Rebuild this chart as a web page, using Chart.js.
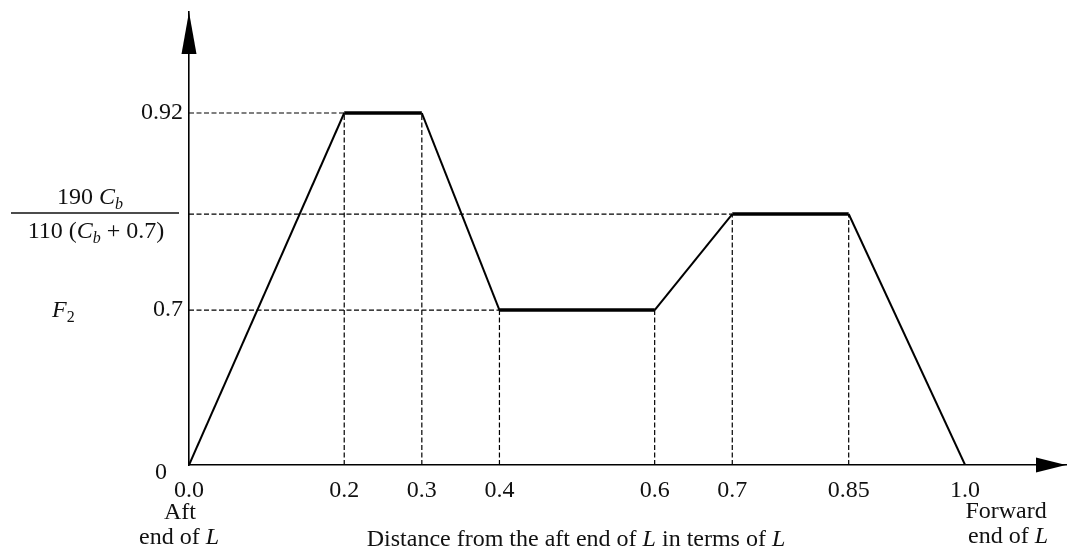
<!DOCTYPE html>
<html>
<head>
<meta charset="utf-8">
<script src="https://cdn.jsdelivr.net/npm/chart.js@4/dist/chart.umd.min.js"></script>
<style>
html, body { margin: 0; padding: 0; background: #fff; }
#wrap { width: 1068px; height: 554px; }
</style>
</head>
<body>
<div id="wrap"><canvas id="dist_chart" width="1068" height="554"></canvas></div>
<script>
// breakpoints along the ship, as a fraction of L from the aft end
var xBreaks = [0.0, 0.2, 0.3, 0.4, 0.6, 0.7, 0.85, 1.0];
// factor at each breakpoint; 0.81 stands in for 190 Cb / (110 (Cb + 0.7))
var fValues = [0, 0.92, 0.92, 0.7, 0.7, 0.81, 0.81, 0];

var xTickValues = [0.0, 0.2, 0.3, 0.4, 0.6, 0.7, 0.85, 1.0];
var xTickLabels = ['0.0', '0.2', '0.3', '0.4', '0.6', '0.7', '0.85', '1.0'];
var yTickValues = [0, 0.7, 0.81, 0.92];
var yTickLabels = ['', '0.7', '', '0.92'];

var SERIF = '"Liberation Serif", "Times New Roman", serif';
var INK = '#111';
var FS = 24, SUB = 16;

// the y axis of the sketch is not to scale, so map values piecewise
var yKnots = [0, 0.7, 0.81, 0.92, 1.1];
var yKnotPos = [0, 0.342, 0.554, 0.777, 1];

function toDecimal(v) {
    for (var i = 1; i < yKnots.length; i++) {
        if (v <= yKnots[i] || i == yKnots.length - 1) {
            return yKnotPos[i - 1] + (v - yKnots[i - 1]) / (yKnots[i] - yKnots[i - 1]) * (yKnotPos[i] - yKnotPos[i - 1]);
        }
    }
}
function fromDecimal(d) {
    for (var i = 1; i < yKnotPos.length; i++) {
        if (d <= yKnotPos[i] || i == yKnotPos.length - 1) {
            return yKnots[i - 1] + (d - yKnotPos[i - 1]) / (yKnotPos[i] - yKnotPos[i - 1]) * (yKnots[i] - yKnots[i - 1]);
        }
    }
}

var BaseLinear = Chart.LinearScale || Chart.registry.getScale('linear');
class SketchScale extends BaseLinear {
    static id = 'sketch';
    static defaults = {};
    getPixelForValue(value) {
        if (value === null || isNaN(value)) return NaN;
        return this.getPixelForDecimal(toDecimal(value));
    }
    getValueForPixel(pixel) {
        return fromDecimal(this.getDecimalForPixel(pixel));
    }
}
Chart.register(SketchScale);

// main profile
var profile = xBreaks.map((x, i) => ({ x: x, y: fValues[i] }));

// dashed guides: down to the x axis from each corner, across to the y axis from each level
var guides = [];
xBreaks.forEach((x, i) => {
    if (fValues[i] > 0) {
        guides.push({ x: x, y: 0 }, { x: x, y: fValues[i] }, { x: null, y: null });
    }
});
var seen = [];
xBreaks.forEach((x, i) => {
    var v = fValues[i];
    if (v > 0 && seen.indexOf(v) < 0) {
        seen.push(v);
        guides.push({ x: 0, y: v }, { x: x, y: v }, { x: null, y: null });
    }
});

function fnt(size, italic) {
    return (italic ? 'italic ' : '') + size + 'px ' + SERIF;
}

// parts: [text, italic, subscript]
function richText(ctx, parts, cx, cy, align) {
    var w = 0;
    parts.forEach(p => {
        ctx.font = fnt(p[2] ? SUB : FS, p[1]);
        w += ctx.measureText(p[0]).width;
    });
    var x = align == 'left' ? cx : cx - w / 2;
    parts.forEach(p => {
        ctx.font = fnt(p[2] ? SUB : FS, p[1]);
        ctx.fillText(p[0], x, cy + (p[2] ? 7 : 0));
        x += ctx.measureText(p[0]).width;
    });
}

var sketchDecor = {
    id: 'sketchDecor',
    afterDraw(chart) {
        var ctx = chart.ctx;
        var a = chart.chartArea;
        var xs = chart.scales.x, ys = chart.scales.y;
        ctx.save();
        ctx.fillStyle = '#000';

        // axis arrow heads
        ctx.beginPath();
        ctx.moveTo(a.left, a.top);
        ctx.lineTo(a.left - 7.5, a.top + 42);
        ctx.lineTo(a.left + 7.5, a.top + 42);
        ctx.closePath();
        ctx.fill();
        ctx.beginPath();
        ctx.moveTo(a.right, a.bottom);
        ctx.lineTo(a.right - 30, a.bottom - 7.5);
        ctx.lineTo(a.right - 30, a.bottom + 7.5);
        ctx.closePath();
        ctx.fill();

        ctx.fillStyle = INK;
        ctx.textBaseline = 'middle';
        ctx.textAlign = 'left';

        // origin label
        richText(ctx, [['0', false, false]], a.left - 28, a.bottom + 8);

        // F2 next to 0.7
        richText(ctx, [['F', true, false], ['2', false, true]], 52, ys.getPixelForValue(0.7) + 1, 'left');

        // the fraction level
        var yf = ys.getPixelForValue(fValues[5]);
        ctx.strokeStyle = INK;
        ctx.lineWidth = 1.6;
        ctx.beginPath();
        ctx.moveTo(11, yf - 1);
        ctx.lineTo(179, yf - 1);
        ctx.stroke();
        richText(ctx, [['190 ', false, false], ['C', true, false], ['b', true, true]], 90, yf - 16);
        richText(ctx, [['110 (', false, false], ['C', true, false], ['b', true, true], [' + 0.7)', false, false]], 96, yf + 18);

        // end notes and axis title
        var x0 = xs.getPixelForValue(0), x1 = xs.getPixelForValue(1);
        richText(ctx, [['Aft', false, false]], x0 - 9, 513);
        richText(ctx, [['end of ', false, false], ['L', true, false]], x0 - 10, 538);
        richText(ctx, [['Forward', false, false]], x1 + 41, 512);
        richText(ctx, [['end of ', false, false], ['L', true, false]], x1 + 43, 537);
        richText(ctx, [['Distance from the aft end of ', false, false], ['L', true, false], [' in terms of ', false, false], ['L', true, false]], 576, 540);

        ctx.restore();
    }
};

var dist_chart = new Chart(document.getElementById('dist_chart'), {
    type: 'line',
    data: {
        datasets: [
            {
                label: 'profile',
                data: profile,
                borderColor: '#000',
                borderWidth: 2,
                pointRadius: 0,
                tension: 0,
                segment: {
                    borderWidth: ctx => ctx.p0.parsed.y === ctx.p1.parsed.y ? 3.4 : 2,
                },
            },
            {
                label: 'guides',
                data: guides,
                borderColor: '#000',
                borderWidth: 1.2,
                borderDash: [5, 2.5],
                pointRadius: 0,
                spanGaps: false,
            }
        ]
    },
    options: {
        responsive: false,
        animation: false,
        layout: {
            padding: { left: 0, top: 12, right: 2, bottom: 0 }
        },
        scales: {
            x: {
                type: 'linear',
                min: 0,
                max: 1.13,
                afterFit: s => { s.height = 89; s.paddingLeft = 0; s.paddingRight = 0; },
                afterBuildTicks: s => { s.ticks = xTickValues.map(v => ({ value: v })); },
                grid: { display: false, drawTicks: false },
                border: { display: true, color: '#000', width: 1.6 },
                ticks: {
                    autoSkip: false,
                    maxRotation: 0,
                    padding: 11,
                    color: INK,
                    font: { family: SERIF, size: FS },
                    callback: (v, i) => xTickLabels[i],
                },
            },
            y: {
                type: 'sketch',
                min: 0,
                max: 1.1,
                afterFit: s => { s.width = 189; s.paddingTop = 0; s.paddingBottom = 0; },
                afterBuildTicks: s => { s.ticks = yTickValues.map(v => ({ value: v })); },
                grid: { display: false, drawTicks: false },
                border: { display: true, color: '#000', width: 1.6 },
                ticks: {
                    autoSkip: false,
                    padding: 6,
                    color: INK,
                    font: { family: SERIF, size: FS },
                    callback: (v, i) => yTickLabels[i],
                },
            }
        },
        plugins: {
            legend: { display: false },
            tooltip: { enabled: false },
            title: { display: false },
        }
    },
    plugins: [sketchDecor],
})
</script>
</body>
</html>
